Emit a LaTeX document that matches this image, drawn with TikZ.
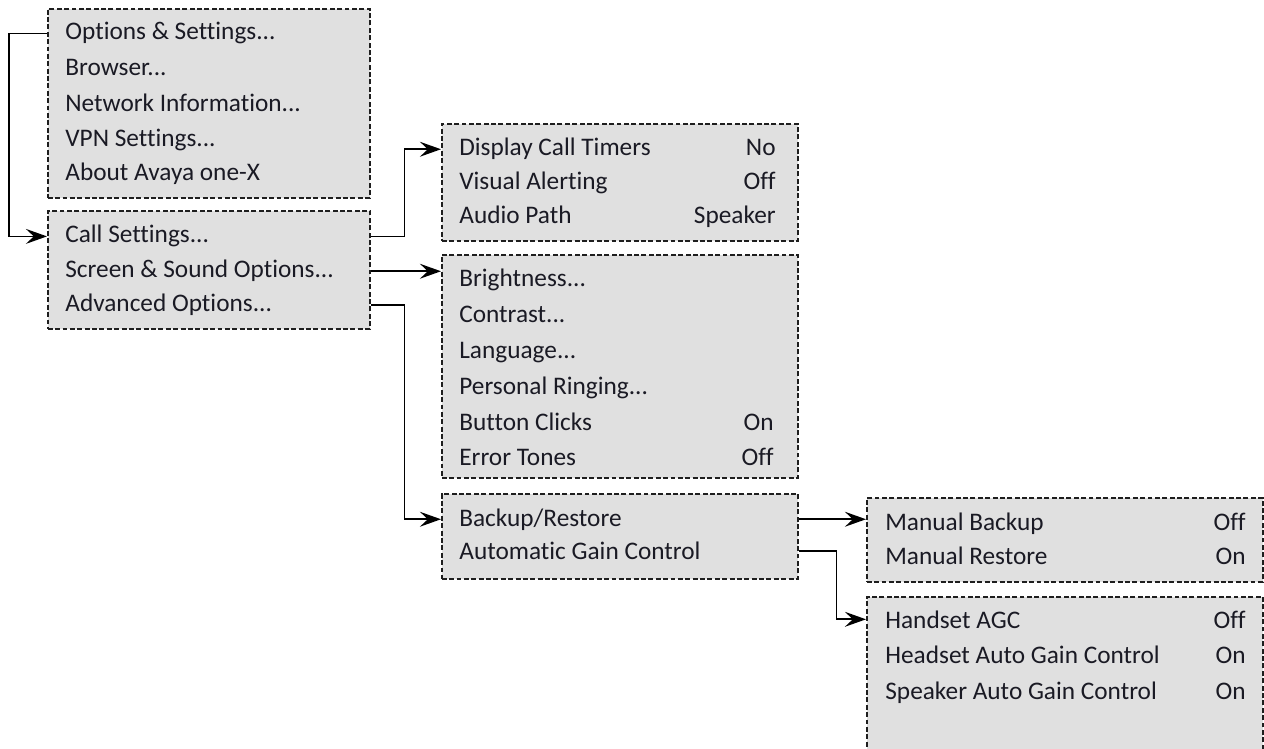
\documentclass[tikz,border=0pt]{standalone}
\usepackage{fontspec}
\setmainfont{Carlito}[RawFeature={-liga;-clig;-calt;-dlig}]
\usetikzlibrary{arrows.meta}
\definecolor{boxfill}{HTML}{E0E0E0}
\definecolor{boxline}{HTML}{1E1E1E}
\definecolor{itemtext}{HTML}{1A1A24}
\newcommand{\px}{0.02cm}
\tikzset{
  menubox/.style={draw=boxline, fill=boxfill, line width=0.9pt, dash pattern=on 2.8pt off 1.4pt, inner sep=0pt, anchor=north west},
  item/.style={anchor=base west, inner sep=0pt, text=itemtext, font=\fontsize{14.4}{17}\selectfont},
  value/.style={item, anchor=base east},
  link/.style={draw=black, line width=1pt, -{Stealth[length=12pt,width=8.5pt,inset=4.5pt]}}
}

\begin{document}
\begin{tikzpicture}[x=\px, y=-\px]
  \useasboundingbox (0,0) rectangle (1264,749);
  % menu boxes
  \node[menubox, minimum width=322*\px, minimum height=189*\px] (main) at (47,8) {};
  \node[menubox, minimum width=322*\px, minimum height=118*\px] (sub) at (47,210) {};
  \node[menubox, minimum width=356*\px, minimum height=117*\px] (call) at (441,123) {};
  \node[menubox, minimum width=356*\px, minimum height=223*\px] (screen) at (441,254) {};
  \node[menubox, minimum width=356*\px, minimum height=85*\px] (adv) at (441,493) {};
  \node[menubox, minimum width=396*\px, minimum height=84*\px] (backup) at (866,497) {};
  \node[menubox, minimum width=396*\px, minimum height=170*\px] (agc) at (866,596) {};

  % main menu
  \node[item] (m1) at (65,40) {Options \& Settings...};
  \node[item] (m2) at (65,76) {Browser...};
  \node[item] (m3) at (65,112) {Network Information...};
  \node[item] (m4) at (65,147) {VPN Settings...};
  \node[item] (m5) at (65,181) {About Avaya one-X};

  \node[item] (s1) at (65,243) {Call Settings...};
  \node[item] (s2) at (65,278) {Screen \& Sound Options...};
  \node[item] (s3) at (65,312) {Advanced Options...};

  % call settings
  \node[item] (c1) at (459,156) {Display Call Timers};
  \node[item] (c2) at (459,190) {Visual Alerting};
  \node[item] (c3) at (459,224) {Audio Path};
  \node[value] (c1v) at (776,156) {No};
  \node[value] (c2v) at (776,190) {Off};
  \node[value] (c3v) at (776,224) {Speaker};

  % screen and sound
  \node[item] (d1) at (459,287) {Brightness...};
  \node[item] (d2) at (459,323) {Contrast...};
  \node[item] (d3) at (459,359) {Language...};
  \node[item] (d4) at (459,395) {Personal Ringing...};
  \node[item] (d5) at (459,431) {Button Clicks};
  \node[item] (d6) at (459,466) {Error Tones};
  \node[value] (d5v) at (774,431) {On};
  \node[value] (d6v) at (774,466) {Off};

  % advanced
  \node[item] (a1) at (459,526) {Backup/Restore};
  \node[item] (a2) at (459,560) {Automatic Gain Control};

  \node[item] (b1) at (885,530) {Manual Backup};
  \node[item] (b2) at (885,564) {Manual Restore};
  \node[value] (b1v) at (1246,530) {Off};
  \node[value] (b2v) at (1246,564) {On};

  \node[item] (g1) at (885,628) {Handset AGC};
  \node[item] (g2) at (885,663) {Headset Auto Gain Control};
  \node[item] (g3) at (885,699) {Speaker Auto Gain Control};
  \node[value] (g1v) at (1246,628) {Off};
  \node[value] (g2v) at (1246,663) {On};
  \node[value] (g3v) at (1246,699) {On};

  % connectors
  \draw[link] (main.west |- m1) -- ++(-38,0) |- (sub.west |- s1);
  \draw[link] (sub.east |- s1) -- ++(34,0) |- (call.west |- c1);
  \draw[link] (sub.east |- s2) -- (screen.west |- s2);
  \draw[link] (sub.east |- s3) -- ++(34,0) |- (adv.west |- a1);
  \draw[link] (adv.east |- a1) -- (backup.west |- a1);
  \draw[link] (adv.east |- a2) -- ++(38,0) |- (agc.west |- g1);
\end{tikzpicture}
\end{document}
